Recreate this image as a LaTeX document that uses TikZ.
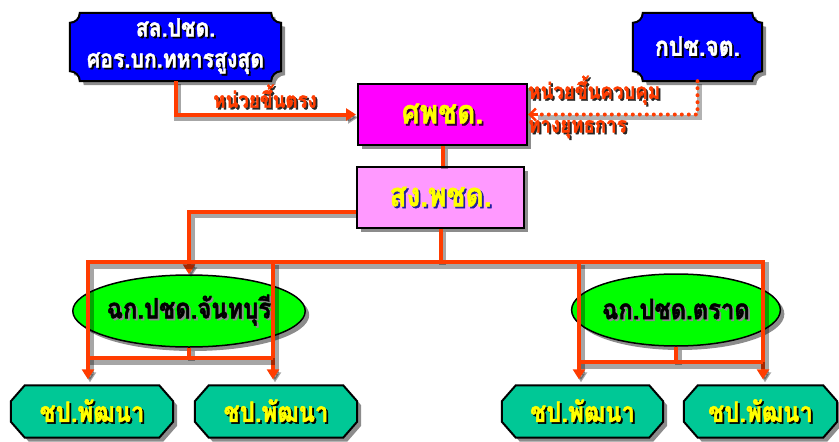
\documentclass[tikz,border=0pt]{standalone}
\usepackage{fontspec}
\newfontfamily\thai[Script=Thai, FakeStretch=0.85, BoldFeatures={FakeBold=1.5}]{Loma}
\usetikzlibrary{arrows.meta,calc,shadows,backgrounds,shapes.geometric}
\definecolor{org}{HTML}{FF3C00}
\definecolor{bluefill}{HTML}{0000FF}
\definecolor{magfill}{HTML}{FF00FF}
\definecolor{pinkfill}{HTML}{FF99FF}
\definecolor{grnfill}{HTML}{00FF00}
\definecolor{tealfill}{HTML}{00C896}
\definecolor{ylw}{HTML}{FFFF00}
\definecolor{sgshadow}{HTML}{2020A0}
\newcommand\shtx[3]{\leavevmode\rlap{\hspace{1.8pt}\raisebox{-1.8pt}{\textcolor{#2}{#3}}}\textcolor{#1}{#3}}
\tikzset{
  txt/.style={inner sep=0pt, align=center},
  shd/.style={drop shadow={shadow xshift=4pt, shadow yshift=-4pt, opacity=.45, fill=black}},
  bluebox/.style={fill=bluefill, draw=black, line width=2pt, shd},
  octo/.style={fill=tealfill, draw=black, line width=2pt, shd},
  rectbox/.style={draw=black, line width=2pt, shd, inner sep=0pt},
  ell/.style={ellipse, fill=grnfill, draw=black, line width=1.5pt, shd, inner sep=0pt},
  conn/.style={draw=org, line width=4pt,
    preaction={draw=black, opacity=.35, line width=7pt, transform canvas={shift={(2pt,-3pt)}}}},
  dotconn/.style={draw=org, line width=4pt, line cap=round, dash pattern=on 0pt off 7pt,
    preaction={draw=black, opacity=.3, line width=5pt, transform canvas={shift={(2pt,-3pt)}}}},
  tip/.style={-{Triangle[length=10pt,width=12pt]}},
  lbl/.style={inner sep=0pt, font=\thai\bfseries\fontsize{22}{24}\selectfont},
}
\begin{document}
\begin{tikzpicture}[x=1pt,y=-1pt]
\useasboundingbox (0,0) rectangle (839,442);
% boxes
\node[txt, minimum width=211pt, minimum height=68pt, font=\thai\bfseries\fontsize{25}{31}\selectfont] (b1) at (175.5,47)
  {\shtx{white}{black}{สล.ปชด.}\\\shtx{white}{black}{ศอร.บก.ทหารสูงสุด}};
\node[txt, minimum width=129pt, minimum height=68pt, font=\thai\bfseries\fontsize{27}{30}\selectfont] (b2) at (697.5,47)
  {\shtx{white}{black}{กปช.จต.}};
\node[rectbox, fill=magfill, minimum width=169pt, minimum height=61pt, font=\thai\bfseries\fontsize{33}{36}\selectfont] (sp) at (442.5,114.5)
  {\shtx{ylw}{black!80!magfill}{ศพชด.}};
\node[rectbox, fill=pinkfill, minimum width=167pt, minimum height=61pt, font=\thai\bfseries\fontsize{33}{36}\selectfont] (sg) at (440.5,197.5)
  {\shtx{ylw}{sgshadow}{สง.พชด.}};
\node[ell, minimum width=192pt, minimum height=72pt, font=\thai\bfseries\fontsize{28}{30}\selectfont] (el1) at (189,311)
  {\shtx{black}{black!45}{ฉก.ปชด.จันทบุรี}};
\node[ell, minimum width=193pt, minimum height=72pt, font=\thai\bfseries\fontsize{28}{30}\selectfont] (el2) at (676,310)
  {\shtx{black}{black!45}{ฉก.ปชด.ตราด}};
\foreach \n/\x/\w in {c1/92/162, c2/276/162, c3/582.5/161, c4/760.5/153}{
  \node[txt, minimum width=\w pt, minimum height=52pt, font=\thai\bfseries\fontsize{28}{30}\selectfont] (\n) at (\x,411.5)
    {\shtx{ylw}{black}{ชป.พัฒนา}};
}
\begin{scope}[on background layer]
\foreach \n in {b1,b2}{
  \path[bluebox] ($(\n.north west)+(0,10)$) arc[start angle=90,end angle=0,radius=10]
    -- ($(\n.north east)+(-10,0)$) arc[start angle=180,end angle=90,radius=10]
    -- ($(\n.south east)+(0,-10)$) arc[start angle=270,end angle=180,radius=10]
    -- ($(\n.south west)+(10,0)$) arc[start angle=0,end angle=-90,radius=10] -- cycle;
}
\foreach \n in {c1,c2,c3,c4}{
  \path[octo] ($(\n.north west)+(14,0)$) -- ($(\n.north east)+(-14,0)$) -- ($(\n.north east)+(0,16)$)
    -- ($(\n.south east)+(0,-16)$) -- ($(\n.south east)+(-14,0)$) -- ($(\n.south west)+(14,0)$)
    -- ($(\n.south west)+(0,-16)$) -- ($(\n.north west)+(0,16)$) -- cycle;
}
\end{scope}
% labels
\node[lbl] (l1) at (265,97) {\shtx{org}{black!85}{หน่วยขึ้นตรง}};
\node[lbl, anchor=west] (l2) at (528,91) {\shtx{org}{black!85}{หน่วยขึ้นควบคุม}};
\node[lbl, anchor=west] (l3) at (528,130) {\shtx{org}{black!85}{ทางยุทธการ}};
% connectors
\coordinate (sgw) at ($(sg.west)+(0,14)$);
\coordinate (tl) at (88,262);
\coordinate (t2) at (273,262);
\coordinate (t3) at (579,262);
\coordinate (tr) at (763,262);
\coordinate (bl1) at (88,358);
\coordinate (bl2) at (273,358);
\coordinate (br1) at (579,362);
\coordinate (br2) at (763,362);
\draw[conn, tip, shorten >=1pt] (b1.south) |- (sp.west);
\draw[dotconn] (b2.south) |- ($(sp.east)+(8,0)$);
\draw[draw=org, line width=2.5pt, -{Straight Barb[length=6pt,width=12pt]}] ($(sp.east)+(10,0)$) -- (sp.east);
\draw[conn] (sp.south) -- (sp.south |- sg.north);
\draw[conn, tip] (sgw) -| (el1.north);
\draw[conn] (sg.south) -- (sg.south |- tl);
\draw[conn, {Triangle[length=10pt,width=12pt]}-{Triangle[length=10pt,width=12pt]}, shorten <=6pt, shorten >=6pt]
  (tl |- c1.north) -- (tl) -- (tr) -- (tr |- c4.north);
\draw[conn, tip, shorten >=6pt] (t2) -- (t2 |- c2.north);
\draw[conn, tip, shorten >=6pt] (t3) -- (t3 |- c3.north);
\draw[conn] (el1.south) -- (el1.south |- bl1);
\draw[conn] (bl1) -- (bl2);
\draw[conn] (el2.south) -- (el2.south |- br1);
\draw[conn] (br1) -- (br2);
\end{tikzpicture}
\end{document}
